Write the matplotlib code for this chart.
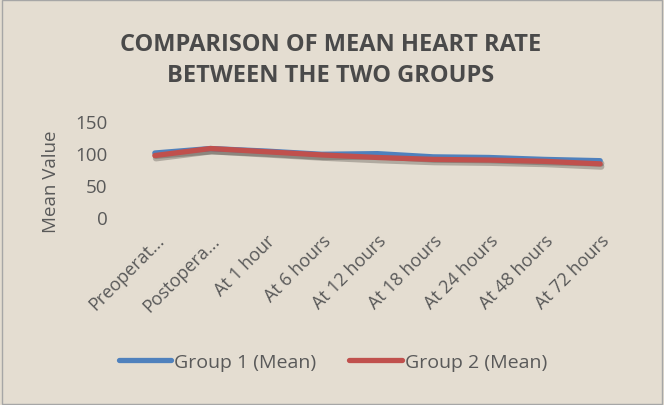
import matplotlib
matplotlib.use("Agg")
import matplotlib.pyplot as plt
import matplotlib.patheffects as pe

categories = ["Preoperat...", "Postopera...", "At 1 hour", "At 6 hours", "At 12 hours",
              "At 18 hours", "At 24 hours", "At 48 hours", "At 72 hours"]
group1 = [100, 107, 103, 98, 99, 94, 93, 90, 88]
group2 = [96, 107, 102, 97, 93, 90, 89, 87, 83]
yticks = [0, 50, 100, 150]

BG = "#e4ddd1"
TXT = "#595959"
FS = 13.5

plt.rcParams['font.family'] = ['Open Sans', 'DejaVu Sans']

fig = plt.figure(figsize=(6.64, 4.06), dpi=100, facecolor=BG)
fig.patches.append(plt.Rectangle((0.003, 0.003), 0.994, 0.994, transform=fig.transFigure,
                                 fill=False, edgecolor="#a6a6a6", linewidth=1))

W, H = 664, 406
ax = fig.add_axes([127 / W, 1 - 218 / H, (628 - 127) / W, (218 - 122) / H])
ax.set_facecolor("none")
x = list(range(len(categories)))

shadow = [pe.SimpleLineShadow(offset=(0.8, -2.0), shadow_color="#3a3530", alpha=0.3, linewidth=4.5),
          pe.Normal()]
l1, = ax.plot(x, group1, color="#4f81bd", linewidth=3.8, solid_capstyle="round",
              solid_joinstyle="round", path_effects=shadow, label="Group 1 (Mean)")
l2, = ax.plot(x, group2, color="#c0504d", linewidth=3.8, solid_capstyle="round",
              solid_joinstyle="round", path_effects=shadow, label="Group 2 (Mean)")

ax.set_xlim(-0.5, len(categories) - 0.5)
ax.set_ylim(0, 150)
ax.set_yticks(yticks)
ax.set_yticklabels([str(v) for v in yticks], fontsize=FS, color=TXT)
ax.set_xticks(x)
ax.set_xticklabels(categories, rotation=45, ha="right", va="top", rotation_mode="anchor",
                   fontsize=FS - 0.5, color=TXT)
ax.tick_params(axis="both", length=0)
ax.tick_params(axis="y", pad=14)
ax.tick_params(axis="x", pad=10)
for s in ax.spines.values():
    s.set_visible(False)

fig.text(51 / W, 1 - 182 / H, "Mean Value", rotation=90, ha="center", va="center",
         fontsize=FS, color=TXT)

fig.text(331 / W, 1 - 45 / H, "COMPARISON OF MEAN HEART RATE", ha="center", va="center",
         fontsize=17, fontweight="bold", color="#4a4a4a")
fig.text(331 / W, 1 - 76 / H, "BETWEEN THE TWO GROUPS", ha="center", va="center",
         fontsize=17, fontweight="bold", color="#4a4a4a")

leg = fig.legend(handles=[l1, l2], loc="center", bbox_to_anchor=(333 / W, 1 - 363 / H),
                 ncol=2, frameon=False, fontsize=FS + 0.5, handlelength=2.7, handletextpad=0.15,
                 columnspacing=1.7)
for t in leg.get_texts():
    t.set_color(TXT)
for h in leg.legend_handles:
    h.set_path_effects([])
    h.set_linewidth(3.8)

fig.savefig("out.png", dpi=100, facecolor=BG)
